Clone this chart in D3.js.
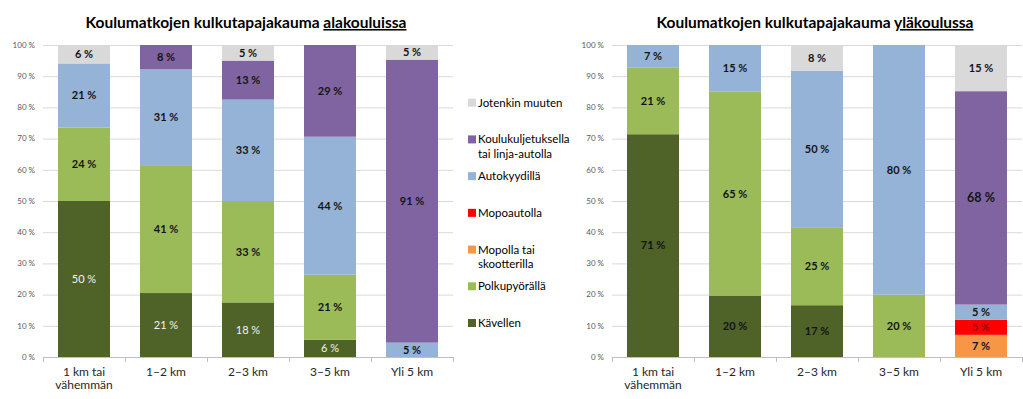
<!DOCTYPE html>
<html>
<head>
<meta charset="utf-8">
<script src="https://cdn.jsdelivr.net/npm/d3@7"></script>
<style>
  body { margin: 0; background: #fff; }
  svg { display: block; font-family: Lato, "Open Sans", sans-serif; }
</style>
</head>
<body>
<script>
// categories (distance to school), bottom-to-top series order
var categories = ["1 km tai\nvähemmän", "1–2 km", "2–3 km", "3–5 km", "Yli 5 km"];
var seriesNames = ["Kävellen", "Polkupyörällä", "Mopolla tai\nskootterilla", "Mopoautolla",
  "Autokyydillä", "Koulukuljetuksella\ntai linja-autolla", "Jotenkin muuten"];
var seriesColors = ["#4f6228", "#9bbb59", "#f79646", "#ff0000", "#95b3d7", "#8064a2", "#d9d9d9"];
var yTicks = [0, 10, 20, 30, 40, 50, 60, 70, 80, 90, 100];

// alakoulut, one row per series, values in %
var alaKavellen   = [50, 20.5, 17.5, 5.5, 0];
var alaPolkupyora = [23.5, 41, 32.5, 20.9, 0];
var alaMopo       = [0, 0, 0, 0, 0];
var alaMopoauto   = [0, 0, 0, 0, 0];
var alaAutokyyti  = [20.6, 30.7, 32.5, 44.2, 4.6];
var alaKuljetus   = [0, 7.8, 12.5, 29.4, 90.7];
var alaMuuten     = [5.9, 0, 5, 0, 4.7];

// yläkoulut
var ylaKavellen   = [71.4, 19.7, 16.6, 0, 0];
var ylaPolkupyora = [21.3, 65.3, 25, 20, 0];
var ylaMopo       = [0, 0, 0, 0, 7.1];
var ylaMopoauto   = [0, 0, 0, 0, 4.8];
var ylaAutokyyti  = [7.3, 15, 50.2, 80, 4.9];
var ylaKuljetus   = [0, 0, 0, 0, 68.4];
var ylaMuuten     = [0, 0, 8.2, 0, 14.8];

var width = 1023, height = 399;

var svg = d3.select("body").append("svg")
    .attr("width", width)
    .attr("height", height);

// build rows for d3.stack
function toTable(cols) {
  return categories.map(function(c, i) {
    var row = {cat: c};
    seriesNames.forEach(function(s, j) { row[s] = cols[j][i]; });
    return row;
  });
}

var stack = d3.stack().keys(seriesNames);

function drawChart(opt) {
  var g = svg.append("g");

  var x = d3.scaleBand()
      .domain(categories)
      .range([opt.x0, opt.x1])
      .paddingInner(30 / 82)
      .paddingOuter(15 / 82);
  var y = d3.scaleLinear().domain([0, 100]).range([357, 45]);
  var color = d3.scaleOrdinal().domain(seriesNames).range(seriesColors);

  // title
  var t = g.append("text")
      .attr("x", (opt.x0 + opt.x1) / 2 - 2)
      .attr("y", 28)
      .attr("text-anchor", "middle")
      .style("font-size", "15.5px")
      .style("font-weight", "bold")
      .attr("fill", "#000");
  t.append("tspan").text(opt.title + " ");
  t.append("tspan").style("text-decoration", "underline").text(opt.titleUnder);

  // gridlines
  g.selectAll(".grid").data(yTicks.slice(1)).enter().append("line")
      .attr("x1", opt.x0).attr("x2", opt.x1)
      .attr("y1", function(d) { return y(d) + 0.5; })
      .attr("y2", function(d) { return y(d) + 0.5; })
      .attr("stroke", "#d9d9d9");

  // y tick labels
  g.selectAll(".ylab").data(yTicks).enter().append("text")
      .attr("x", opt.x0 - 8)
      .attr("y", function(d) { return y(d); })
      .attr("dy", "0.35em")
      .attr("text-anchor", "end")
      .style("font-size", "8px")
      .attr("fill", "#595959")
      .text(function(d) { return d + " %"; });

  var layers = stack(toTable(opt.cols));

  var layer = g.selectAll(".layer").data(layers).enter().append("g")
      .attr("fill", function(d) { return color(d.key); });

  layer.selectAll("rect")
      .data(function(d) { return d; })
      .enter().append("rect")
      .attr("x", function(d) { return x(d.data.cat); })
      .attr("width", x.bandwidth())
      .attr("y", function(d) { return y(d[1]); })
      .attr("height", function(d) { return y(d[0]) - y(d[1]); });

  // data labels
  layers.forEach(function(l) {
    g.selectAll(null)
        .data(l.filter(function(d) { return d[1] - d[0] > 0; }))
        .enter().append("text")
        .attr("x", function(d) { return x(d.data.cat) + x.bandwidth() / 2; })
        .attr("y", function(d) { return y((d[0] + d[1]) / 2); })
        .attr("dy", "0.35em")
        .attr("text-anchor", "middle")
        .style("font-size", opt.labelSize(l.key))
        .style("font-weight", opt.labelWeight(l.key))
        .attr("fill", opt.labelColor(l.key))
        .text(function(d) { return Math.round(d[1] - d[0]) + " %"; });
  });

  // x axis line and ticks between categories
  g.append("line")
      .attr("x1", opt.x0).attr("x2", opt.x1)
      .attr("y1", y(0) + 0.5).attr("y2", y(0) + 0.5)
      .attr("stroke", "#bfbfbf");
  var edges = categories.map(function(c) { return x(c) - (x.step() - x.bandwidth()) / 2; });
  edges.push(opt.x1);
  g.selectAll(".xtick").data(edges).enter().append("line")
      .attr("x1", function(d) { return Math.round(d) + 0.5; })
      .attr("x2", function(d) { return Math.round(d) + 0.5; })
      .attr("y1", y(0)).attr("y2", y(0) + 5)
      .attr("stroke", "#bfbfbf");

  // category labels
  var cl = g.selectAll(".xlab").data(categories).enter().append("text")
      .attr("x", function(d) { return x(d) + x.bandwidth() / 2; })
      .attr("y", 376)
      .attr("text-anchor", "middle")
      .style("font-size", "12px")
      .attr("fill", "#262626");
  cl.selectAll("tspan")
      .data(function(d) { return d.split("\n"); })
      .enter().append("tspan")
      .attr("x", function() { return d3.select(this.parentNode).attr("x"); })
      .attr("dy", function(d, i) { return i ? 13 : 0; })
      .text(function(d) { return d; });
}

drawChart({
  x0: 43, x1: 453,
  title: "Koulumatkojen kulkutapajakauma", titleUnder: "alakouluissa",
  cols: [alaKavellen, alaPolkupyora, alaMopo, alaMopoauto, alaAutokyyti, alaKuljetus, alaMuuten],
  labelColor: function(k) { return k === "Kävellen" ? "#f2f2f2" : "#141414"; },
  labelWeight: function(k) { return k === "Kävellen" ? "normal" : "bold"; },
  labelSize: function() { return "11px"; }
});

drawChart({
  x0: 612, x1: 1022,
  title: "Koulumatkojen kulkutapajakauma", titleUnder: "yläkoulussa",
  cols: [ylaKavellen, ylaPolkupyora, ylaMopo, ylaMopoauto, ylaAutokyyti, ylaKuljetus, ylaMuuten],
  labelColor: function(k) { return k === "Mopoautolla" ? "#a00000" : "#141414"; },
  labelWeight: function() { return "bold"; },
  labelSize: function(k) { return k.indexOf("Koulukuljetuksella") === 0 ? "12.5px" : "11px"; }
});

// legend (top to bottom reverses the stack order)
var legendOrder = seriesNames.slice().reverse();
var ly = d3.scalePoint().domain(legendOrder).range([102.7, 323]);
var lcolor = d3.scaleOrdinal().domain(seriesNames).range(seriesColors);

var item = svg.selectAll(".legend").data(legendOrder).enter().append("g")
    .attr("transform", function(d) { return "translate(468," + ly(d) + ")"; });
item.append("rect")
    .attr("x", 0).attr("y", -4)
    .attr("width", 8).attr("height", 8)
    .attr("fill", function(d) { return lcolor(d); });
var lt = item.append("text")
    .attr("x", 10)
    .attr("y", 0)
    .style("font-size", "11.5px")
    .attr("fill", "#000");
lt.selectAll("tspan")
    .data(function(d) { return d.split("\n"); })
    .enter().append("tspan")
    .attr("x", 10)
    .attr("dy", function(d, i) { return i ? "14.5" : "0.35em"; })
    .text(function(d) { return d; });
</script>
</body>
</html>
